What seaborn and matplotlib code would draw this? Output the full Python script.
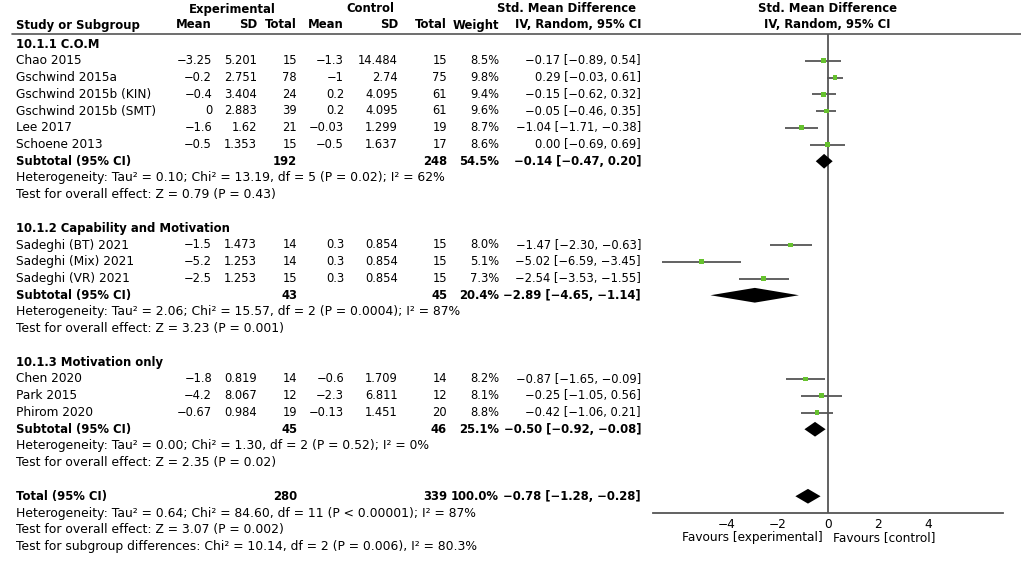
import numpy as np
import pandas as pd
import matplotlib
matplotlib.use("Agg")
import matplotlib.pyplot as plt
import seaborn as sns

sns.set_style("white")
plt.rcParams['font.family'] = ['DejaVu Sans']
plt.rcParams['text.color'] = 'black'
plt.rcParams['xtick.color'] = 'black'

# ================================
# data
# ================================
studies = ["Chao 2015", "Gschwind 2015a", "Gschwind 2015b (KIN)", "Gschwind 2015b (SMT)",
           "Lee 2017", "Schoene 2013",
           "Sadeghi (BT) 2021", "Sadeghi (Mix) 2021", "Sadeghi (VR) 2021",
           "Chen 2020", "Park 2015", "Phirom 2020"]
group_of = [0, 0, 0, 0, 0, 0, 1, 1, 1, 2, 2, 2]
exp_mean = ["−3.25", "−0.2", "−0.4", "0", "−1.6", "−0.5",
            "−1.5", "−5.2", "−2.5", "−1.8", "−4.2", "−0.67"]
exp_sd = ["5.201", "2.751", "3.404", "2.883", "1.62", "1.353",
          "1.473", "1.253", "1.253", "0.819", "8.067", "0.984"]
exp_n = [15, 78, 24, 39, 21, 15, 14, 14, 15, 14, 12, 19]
ctl_mean = ["−1.3", "−1", "0.2", "0.2", "−0.03", "−0.5",
            "0.3", "0.3", "0.3", "−0.6", "−2.3", "−0.13"]
ctl_sd = ["14.484", "2.74", "4.095", "4.095", "1.299", "1.637",
          "0.854", "0.854", "0.854", "1.709", "6.811", "1.451"]
ctl_n = [15, 75, 61, 61, 19, 17, 15, 15, 15, 14, 12, 20]
weight = [8.5, 9.8, 9.4, 9.6, 8.7, 8.6, 8.0, 5.1, 7.3, 8.2, 8.1, 8.8]
smd = [-0.17, 0.29, -0.15, -0.05, -1.04, 0.00, -1.47, -5.02, -2.54, -0.87, -0.25, -0.42]
ci_lo = [-0.89, -0.03, -0.62, -0.46, -1.71, -0.69, -2.30, -6.59, -3.53, -1.65, -1.05, -1.06]
ci_hi = [0.54, 0.61, 0.32, 0.35, -0.38, 0.69, -0.63, -3.45, -1.55, -0.09, 0.56, 0.21]

group_names = ["10.1.1 C.O.M", "10.1.2 Capability and Motivation", "10.1.3 Motivation only"]
sub_exp_n = [192, 43, 45]
sub_ctl_n = [248, 45, 46]
sub_weight = ["54.5%", "20.4%", "25.1%"]
sub_smd = [-0.14, -2.89, -0.50]
sub_lo = [-0.47, -4.65, -0.92]
sub_hi = [0.20, -1.14, -0.08]
sub_het = ["Heterogeneity: Tau² = 0.10; Chi² = 13.19, df = 5 (P = 0.02); I² = 62%",
           "Heterogeneity: Tau² = 2.06; Chi² = 15.57, df = 2 (P = 0.0004); I² = 87%",
           "Heterogeneity: Tau² = 0.00; Chi² = 1.30, df = 2 (P = 0.52); I² = 0%"]
sub_test = ["Test for overall effect: Z = 0.79 (P = 0.43)",
            "Test for overall effect: Z = 3.23 (P = 0.001)",
            "Test for overall effect: Z = 2.35 (P = 0.02)"]

total_exp_n, total_ctl_n = 280, 339
total_smd, total_lo, total_hi = -0.78, -1.28, -0.28
total_notes = ["Heterogeneity: Tau² = 0.64; Chi² = 84.60, df = 11 (P < 0.00001); I² = 87%",
               "Test for overall effect: Z = 3.07 (P = 0.002)",
               "Test for subgroup differences: Chi² = 10.14, df = 2 (P = 0.006), I² = 80.3%"]

xticks = [-4, -2, 0, 2, 4]


def fmt(v):
    return f"{v:.2f}".replace("-", "−")


# ================================
# row layout
# ================================
rows = []
study_rows, sub_rows = [], []
r = 0
for g in range(3):
    rows.append(("group", g, r)); r += 1
    for i, gg in enumerate(group_of):
        if gg == g:
            study_rows.append(r)
            rows.append(("study", i, r)); r += 1
    sub_rows.append(r)
    rows.append(("sub", g, r)); r += 1
    rows.append(("het", g, r)); r += 1
    rows.append(("test", g, r)); r += 1
    r += 1
total_row = r

Y0, STEP = 44, 16.75
FS_NUM = 8.3     # numbers in columns
FS_NAME = 8.7    # study names
FS_NOTE = 8.9    # heterogeneity / test lines
FS_BOLD = 8.4    # bold headers and subtotals
LX = 16


def ypix(row):
    return Y0 + STEP * row


fig = plt.figure(figsize=(10.21, 5.62), dpi=100)
tx = fig.add_axes([0, 0, 1, 1])
tx.set_xlim(0, 1021)
tx.set_ylim(562, 0)
tx.axis("off")

cols = {"em": 212, "esd": 257, "en": 297, "cm": 344, "csd": 398, "cn": 447, "w": 499, "ci": 641}

# headers
tx.text(232, 9, "Experimental", ha="center", va="center", fontsize=FS_BOLD, fontweight="bold")
tx.text(370, 9, "Control", ha="center", va="center", fontsize=FS_BOLD, fontweight="bold")
tx.text(636, 9, "Std. Mean Difference", ha="right", va="center", fontsize=FS_BOLD, fontweight="bold")
tx.text(827, 9, "Std. Mean Difference", ha="center", va="center", fontsize=FS_BOLD, fontweight="bold")
tx.text(827, 25, "IV, Random, 95% CI", ha="center", va="center", fontsize=FS_BOLD, fontweight="bold")
hdr = [(LX, "Study or Subgroup", "left"), (cols["em"], "Mean", "right"), (cols["esd"], "SD", "right"),
       (cols["en"], "Total", "right"), (cols["cm"], "Mean", "right"), (cols["csd"], "SD", "right"),
       (cols["cn"], "Total", "right"), (cols["w"], "Weight", "right"), (cols["ci"], "IV, Random, 95% CI", "right")]
for x, s, ha in hdr:
    tx.text(x, 25, s, ha=ha, va="center", fontsize=FS_BOLD, fontweight="bold")
tx.plot([12, 1021], [34, 34], color="#555555", lw=1.2)

for kind, i, row in rows:
    y = ypix(row)
    if kind == "group":
        tx.text(LX, y, group_names[i], va="center", fontsize=FS_BOLD, fontweight="bold")
    elif kind == "study":
        tx.text(LX, y, studies[i], va="center", fontsize=FS_NAME)
        vals = [(cols["em"], exp_mean[i]), (cols["esd"], exp_sd[i]), (cols["en"], str(exp_n[i])),
                (cols["cm"], ctl_mean[i]), (cols["csd"], ctl_sd[i]), (cols["cn"], str(ctl_n[i])),
                (cols["w"], f"{weight[i]:.1f}%"),
                (cols["ci"], f"{fmt(smd[i])} [{fmt(ci_lo[i])}, {fmt(ci_hi[i])}]")]
        for x, s in vals:
            tx.text(x, y, s, ha="right", va="center", fontsize=FS_NUM)
    elif kind == "sub":
        vals = [(LX, "Subtotal (95% CI)", "left"), (cols["en"], str(sub_exp_n[i]), "right"),
                (cols["cn"], str(sub_ctl_n[i]), "right"), (cols["w"], sub_weight[i], "right"),
                (cols["ci"], f"{fmt(sub_smd[i])} [{fmt(sub_lo[i])}, {fmt(sub_hi[i])}]", "right")]
        for x, s, ha in vals:
            tx.text(x, y, s, ha=ha, va="center", fontsize=FS_BOLD, fontweight="bold")
    elif kind == "het":
        tx.text(LX, y, sub_het[i], va="center", fontsize=FS_NOTE)
    elif kind == "test":
        tx.text(LX, y, sub_test[i], va="center", fontsize=FS_NOTE)

y = ypix(total_row)
vals = [(LX, "Total (95% CI)", "left"), (cols["en"], str(total_exp_n), "right"),
        (cols["cn"], str(total_ctl_n), "right"), (cols["w"], "100.0%", "right"),
        (cols["ci"], f"{fmt(total_smd)} [{fmt(total_lo)}, {fmt(total_hi)}]", "right")]
for x, s, ha in vals:
    tx.text(x, y, s, ha=ha, va="center", fontsize=FS_BOLD, fontweight="bold")
for k, s in enumerate(total_notes):
    tx.text(LX, ypix(total_row + 1 + k), s, va="center", fontsize=FS_NOTE)

# ================================
# forest panel
# ================================
ax_bottom, ax_top = 513, 34
ax = fig.add_axes([653 / 1021, 1 - ax_bottom / 562, 350 / 1021, (ax_bottom - ax_top) / 562])
ax.set_xlim(-6.93, 6.96)
ax.set_ylim((ax_bottom - Y0) / STEP, (ax_top - Y0) / STEP)
ax.patch.set_alpha(0)

ax.axvline(0, color="#555555", lw=1.3, zorder=1)

df = pd.DataFrame({"smd": smd, "lo": ci_lo, "hi": ci_hi, "row": study_rows})
ax.hlines(df["row"], df["lo"], df["hi"], color="#555555", lw=1.3, zorder=2)
sns.scatterplot(data=df, x="smd", y="row", marker="s", s=12, color="#66c22e",
                edgecolor="none", ax=ax, zorder=3, legend=False)

diamonds = list(zip(sub_smd, sub_lo, sub_hi, sub_rows)) + [(total_smd, total_lo, total_hi, total_row)]
for c, lo, hi, row in diamonds:
    h = 0.44
    ax.fill([lo, c, hi, c], [row, row - h, row, row + h], color="black", lw=0, zorder=4)

for s in ["top", "right", "left"]:
    ax.spines[s].set_visible(False)
ax.spines["bottom"].set_color("#555555")
ax.spines["bottom"].set_linewidth(1.3)
ax.set_yticks([])
ax.set_xticks(xticks)
ax.set_xticklabels([str(t).replace("-", "−") for t in xticks], fontsize=FS_NUM + 0.4)
ax.tick_params(axis="x", direction="inout", length=7, width=1.1, color="#555555", pad=0)
ax.set_xlabel("")
ax.set_ylabel("")

tx.text(823, 538, "Favours [experimental]", ha="right", va="center", fontsize=FS_NAME)
tx.text(833, 538, "Favours [control]", ha="left", va="center", fontsize=FS_NAME)

fig.savefig("out.png", dpi=100)
